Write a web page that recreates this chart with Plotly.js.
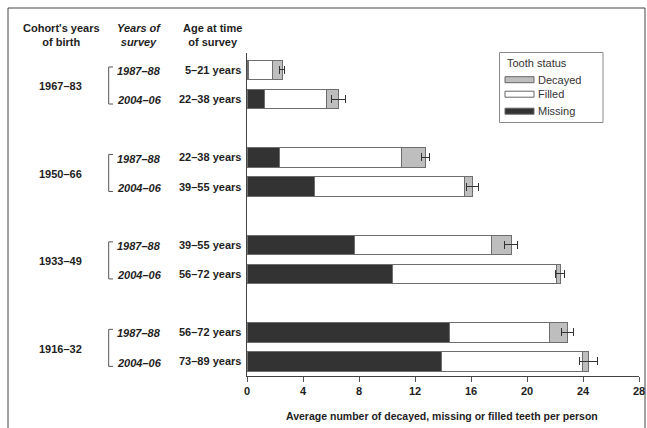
<!DOCTYPE html>
<html>
<head>
<meta charset="utf-8">
<script src="https://cdn.plot.ly/plotly-3.0.1.min.js"></script>
<style>html,body{margin:0;padding:0;background:#fff}#chart{width:647px;height:428px}</style>
</head>
<body>
<div id="chart"></div>
<script>
// ---- data ----
const cohorts = ["1967–83", "1950–66", "1933–49", "1916–32"];
const surveys = ["1987–88", "2004–06"];
const ages = ["5–21 years", "22–38 years", "22–38 years", "39–55 years", "39–55 years", "56–72 years", "56–72 years", "73–89 years"];
const missing = [0.1, 1.24, 2.33, 4.81, 7.66, 10.38, 14.47, 13.88];
const filled  = [1.73, 4.47, 8.71, 10.73, 9.79, 11.76, 7.14, 10.09];
const decayed = [0.67, 0.79, 1.70, 0.57, 1.41, 0.24, 1.29, 0.43];
const decayedErr = [0.2, 0.5, 0.3, 0.45, 0.44, 0.33, 0.45, 0.65];
const xTicks = [0, 4, 8, 12, 16, 20, 24, 28];
const xTitle = 'Average number of decayed, missing or filled teeth per person';

// ---- layout helpers ----
const W = 647, H = 428;
const M = {l: 247, r: 8, t: 53, b: 52};
const PW = W - M.l - M.r, PH = H - M.t - M.b;
const px = x => (x - M.l) / PW;      // pixel x -> paper x
const py = y => (H - M.b - y) / PH;  // pixel y -> paper y

// bar positions: groups of two, one empty slot between groups
const ypos = [];
cohorts.forEach((c, g) => surveys.forEach((s, k) => ypos.push(g * 3 + k)));

const outline = {color: '#6e6e6e', width: 1};
const txt = '#1e1e1e';
const FONT = 'Liberation Sans, Arial, sans-serif';

const traces = [
  {type: 'bar', orientation: 'h', name: 'Missing', x: missing, y: ypos,
   marker: {color: '#333333', line: outline}, width: 0.67, hoverinfo: 'x'},
  {type: 'bar', orientation: 'h', name: 'Filled', x: filled, y: ypos,
   marker: {color: '#ffffff', line: outline}, width: 0.67, hoverinfo: 'x'},
  {type: 'bar', orientation: 'h', name: 'Decayed', x: decayed, y: ypos,
   marker: {color: '#bebebe', line: outline}, width: 0.67, hoverinfo: 'x',
   error_x: {type: 'data', array: decayedErr, visible: true, color: '#333', thickness: 1, width: 4}}
];

const annotations = [];
const shapes = [];
const A = (x, y, text, opts) => annotations.push(Object.assign({
  xref: 'paper', yref: 'paper', x: px(x), y: py(y), text: text, showarrow: false,
  font: {family: FONT, size: 11, color: txt}, xanchor: 'center', yanchor: 'middle'
}, opts || {}));

// column headers
A(61, 35, '<b>Cohort\'s years<br>of birth</b>');
A(139, 35, '<b><i>Years of<br>survey</i></b>');
A(212, 35, '<b>Age at time<br>of survey</b>');

// x-axis title
A(442, 416, '<b>' + xTitle + '</b>', {font: {family: FONT, size: 10.5, color: txt}});

cohorts.forEach((c, g) => {
  const y0 = ypos[g * 2], y1 = ypos[g * 2 + 1];
  annotations.push({xref: 'paper', yref: 'y', x: px(60), y: (y0 + y1) / 2 + 0.06, text: '<b>' + c + '</b>',
    showarrow: false, font: {family: FONT, size: 11, color: txt}, xanchor: 'center', yanchor: 'middle'});
  surveys.forEach((s, k) => {
    const i = g * 2 + k;
    annotations.push({xref: 'paper', yref: 'y', x: px(139), y: ypos[i] + 0.04, text: '<b><i>' + s + '</i></b>',
      showarrow: false, font: {family: FONT, size: 11, color: txt}, xanchor: 'center', yanchor: 'middle'});
    annotations.push({xref: 'paper', yref: 'y', x: px(242.5), y: ypos[i], text: '<b>' + ages[i] + '</b>',
      showarrow: false, font: {family: FONT, size: 11, color: txt}, xanchor: 'right', yanchor: 'middle'});
  });
  // bracket
  const bx = px(108.7), bx2 = px(113);
  const top = y0 - 0.1, bot = y1 + 0.17;
  const bl = {color: '#555', width: 1};
  shapes.push({type: 'line', xref: 'paper', yref: 'y', x0: bx, x1: bx, y0: top, y1: bot, line: bl});
  shapes.push({type: 'line', xref: 'paper', yref: 'y', x0: bx, x1: bx2, y0: top, y1: top, line: bl});
  shapes.push({type: 'line', xref: 'paper', yref: 'y', x0: bx, x1: bx2, y0: bot, y1: bot, line: bl});
});

// custom legend
shapes.push({type: 'rect', xref: 'paper', yref: 'paper', x0: px(499.5), x1: px(603), y0: py(52.5), y1: py(122.5),
  line: {color: '#8a8a8a', width: 1}, fillcolor: 'rgba(0,0,0,0)'});
A(505, 63, 'Tooth status', {xanchor: 'left', font: {family: FONT, size: 11, color: '#333'}});
const legendItems = [
  {name: traces[2].name, color: traces[2].marker.color, y: 79.7},
  {name: traces[1].name, color: traces[1].marker.color, y: 94.2},
  {name: traces[0].name, color: traces[0].marker.color, y: 111.2}
];
legendItems.forEach(it => {
  shapes.push({type: 'rect', xref: 'paper', yref: 'paper', x0: px(505), x1: px(534), y0: py(it.y + 3), y1: py(it.y - 3),
    line: {color: '#666', width: 1}, fillcolor: it.color});
  A(536, it.y, it.name, {xanchor: 'left', font: {family: FONT, size: 11, color: '#333'}});
});

// outer frame
shapes.push({type: 'rect', xref: 'paper', yref: 'paper', x0: px(8), x1: px(645), y0: py(440), y1: py(8),
  line: {color: '#444', width: 1}, fillcolor: 'rgba(0,0,0,0)', layer: 'below'});

const layout = {
  width: W, height: H, margin: M,
  paper_bgcolor: '#fff', plot_bgcolor: '#fff',
  barmode: 'stack', showlegend: false,
  font: {family: FONT, size: 11, color: txt},
  xaxis: {range: [0, 28], tickvals: xTicks, ticktext: xTicks.map(String), ticks: 'outside', ticklen: 5,
    tickcolor: '#555', showline: true, linecolor: '#444', showgrid: false, zeroline: false,
    tickfont: {family: FONT, size: 11, color: txt, weight: 700}},
  yaxis: {range: [10.5, -0.58], showticklabels: false, ticks: '', showline: true, linecolor: '#444',
    showgrid: false, zeroline: false},
  annotations: annotations, shapes: shapes
};

Plotly.newPlot('chart', traces, layout, {displayModeBar: false, staticPlot: true});
</script>
</body>
</html>
